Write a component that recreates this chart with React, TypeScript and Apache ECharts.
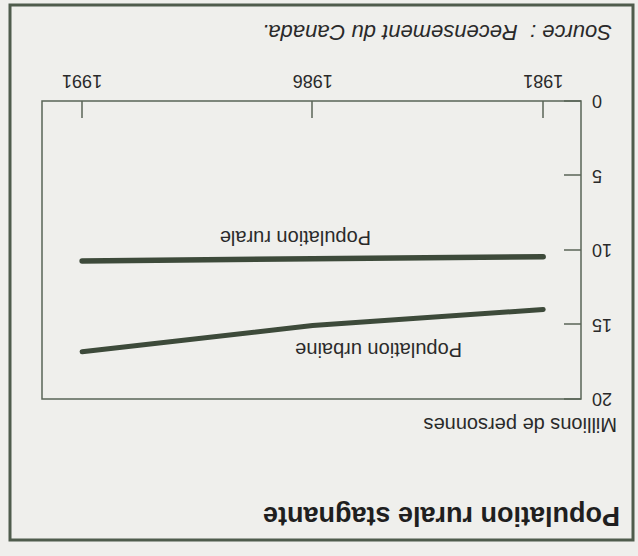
import React, { useEffect, useRef } from "react";
import * as echarts from "echarts";

// ---- data read from the (upside-down) scanned chart ----
const years = [1981, 1986, 1991];
const rurale = [10.45, 10.58, 10.74];
const urbaine = [13.99, 15.07, 16.83];
const yMin = 0;
const yMax = 20;
const yStep = 5;

const titleText = "Population rurale stagnante";
const unitText = "Millions de personnes";
const sourceText = "Source :  Recensement du Canada.";
const ruraleLabel = "Population rurale";
const urbaineLabel = "Population urbaine";

export default function App() {
  const ref = useRef<HTMLDivElement>(null);

  useEffect(() => {
    document.body.style.margin = "0";
    document.body.style.background = "#efefec";
    const chart = echarts.init(ref.current!, null, { renderer: "svg" });
    const font = "Liberation Sans";
    const ink = "#2a2a2a";
    const lineColor = "#3d4a3a";
    const boxColor = "#5a6557";

    chart.setOption({
      animation: false,
      backgroundColor: "#efefec",
      textStyle: { fontFamily: font },
      grid: {
        left: 57,
        top: 157,
        width: 539,
        height: 298,
        show: true,
        borderColor: boxColor,
        borderWidth: 1.5,
        backgroundColor: "transparent",
      },
      xAxis: {
        type: "value",
        min: years[0] - 0.82,
        max: years[years.length - 1] + 0.87,
        axisLine: { show: false },
        splitLine: { show: false },
        axisTick: {
          show: true,
          inside: true,
          length: 17,
          customValues: years,
          lineStyle: { color: boxColor, width: 1.5 },
        },
        axisLabel: {
          customValues: years,
          margin: 11,
          fontSize: 18,
          color: ink,
          fontFamily: font,
          formatter: (v: number) => String(v),
        },
      },
      yAxis: {
        type: "value",
        min: yMin,
        max: yMax,
        interval: yStep,
        axisLine: { show: false },
        splitLine: { show: false },
        axisTick: {
          show: true,
          inside: true,
          length: 17,
          lineStyle: { color: boxColor, width: 1.5 },
        },
        axisLabel: {
          margin: 11,
          fontSize: 18,
          color: ink,
          fontFamily: font,
          formatter: (v: number) => String(v),
        },
      },
      series: [
        {
          name: ruraleLabel,
          type: "line",
          data: years.map((y, i) => [y, rurale[i]]),
          showSymbol: false,
          symbol: "none",
          lineStyle: { color: lineColor, width: 5.5, cap: "round" },
        },
        {
          name: urbaineLabel,
          type: "line",
          data: years.map((y, i) => [y, urbaine[i]]),
          showSymbol: false,
          symbol: "none",
          lineStyle: { color: lineColor, width: 5, cap: "round" },
        },
      ],
      graphic: [
        {
          type: "rect",
          shape: { x: 5, y: 16, width: 623, height: 535 },
          style: { fill: "none", stroke: "#4f5c4c", lineWidth: 3 },
          silent: true,
        },
        {
          type: "text",
          x: 18,
          y: 40,
          style: {
            text: titleText,
            fontSize: 27,
            fontWeight: "bold",
            fontFamily: font,
            fill: "#1f1f1f",
            textAlign: "left",
            textVerticalAlign: "middle",
          },
        },
        {
          type: "text",
          x: 21,
          y: 131,
          style: {
            text: unitText,
            fontSize: 20,
            fontFamily: font,
            fill: ink,
            textAlign: "left",
            textVerticalAlign: "middle",
          },
        },
        {
          type: "text",
          x: 26,
          y: 524,
          style: {
            text: sourceText,
            fontSize: 22,
            fontStyle: "italic",
            fontFamily: font,
            fill: ink,
            textAlign: "left",
            textVerticalAlign: "middle",
          },
        },
        {
          type: "text",
          x: 267,
          y: 318,
          style: {
            text: ruraleLabel,
            fontSize: 20,
            fontFamily: font,
            fill: ink,
            textAlign: "left",
            textVerticalAlign: "middle",
          },
        },
        {
          type: "text",
          x: 176,
          y: 206,
          style: {
            text: urbaineLabel,
            fontSize: 20,
            fontFamily: font,
            fill: ink,
            textAlign: "left",
            textVerticalAlign: "middle",
          },
        },
      ],
    });

    return () => chart.dispose();
  }, []);

  return (
    <div
      ref={ref}
      style={{
        position: "absolute",
        left: 0,
        top: 0,
        width: 638,
        height: 556,
        transform: "rotate(180deg)",
        transformOrigin: "50% 50%",
      }}
    />
  );
}
